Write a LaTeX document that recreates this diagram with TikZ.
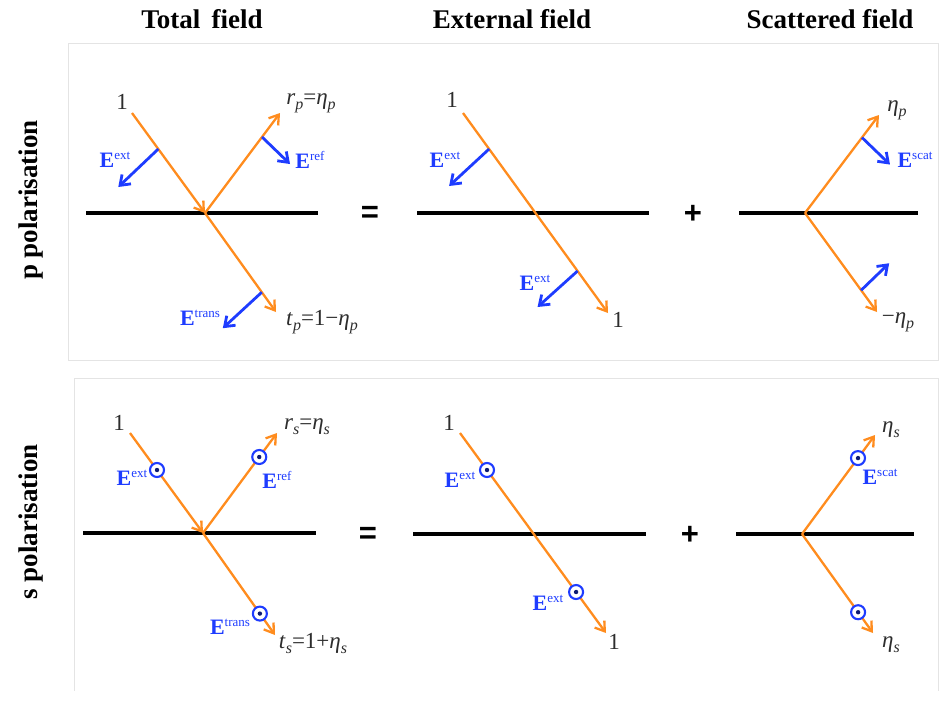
\documentclass[tikz,border=0pt]{standalone}
\usepackage{fontspec}
\setmainfont{Liberation Serif}
\newfontfamily\signfont{Liberation Sans}
\usetikzlibrary{arrows.meta,positioning,calc}

\definecolor{rayorange}{RGB}{255,140,30}
\definecolor{eblue}{RGB}{30,60,255}
\definecolor{labgray}{RGB}{45,45,45}
\definecolor{framegray}{RGB}{228,228,228}

% field label E^{...} and italic subscript
\newcommand{\Efld}[1]{E\raisebox{8pt}{\fontsize{13}{14}\mdseries\selectfont #1}}
\newcommand{\sbs}[1]{\raisebox{-5pt}{\fontsize{16}{16}\selectfont\itshape #1}}

\begin{document}
\begin{tikzpicture}[
  x=1pt, y=-1pt,
  head/.style={font=\bfseries\fontsize{27}{30}\selectfont, anchor=base},
  side/.style={font=\bfseries\fontsize{27}{30}\selectfont, rotate=90},
  frame/.style={draw=framegray, line width=1pt},
  iface/.style={line width=4.5pt, black},
  ray/.style={draw=rayorange, line width=2.3pt, -{Straight Barb[length=9pt,width=12pt]}},
  efield/.style={draw=eblue, line width=2.8pt, -{Straight Barb[length=9pt,width=13pt]}},
  odot/.style={circle, draw=eblue, line width=2.1pt, fill=white, minimum size=14pt, inner sep=0pt,
    path picture={\fill[eblue!45!black] (path picture bounding box.center) circle (2.2pt);}},
  lbl/.style={text=labgray, font=\fontsize{23}{26}\selectfont, inner sep=1pt},
  elbl/.style={text=eblue, font=\bfseries\fontsize{22}{24}\selectfont, inner sep=1pt},
  sign/.style={font=\signfont\bfseries\fontsize{31}{34}\selectfont}
]
\useasboundingbox (0,0) rectangle (939,724);

% headers and row titles
\node[head] (hTot) at (202,28) {Total\, field};
\node[head] (hExt) at (512,28) {External field};
\node[head] (hSca) at (830,28) {Scattered field};
\node[side] (pPol) at (31,200) {p polarisation};
\node[side] (sPol) at (31,522) {s polarisation};

% panel frames
\draw[frame] (68,43) rectangle (938,360);
\draw[frame] (74,691) -- (74,378) -- (938,378) -- (938,691);

%%% p polarisation, total field
\coordinate (pI1) at (132,113);
\coordinate (pP1) at (205,213);
\coordinate (pR1) at (280,113);
\coordinate (pT1) at (276,312);
\draw[iface] (86,213) -- (318,213);
\draw[ray] (pI1) -- (pP1);
\draw[ray] (pP1) -- (pR1);
\draw[ray] (pP1) -- (pT1);
\coordinate (pE1a) at ($(pI1)!0.36!(pP1)$);
\coordinate (pE1b) at ($(pE1a)+(-40,38)$);
\coordinate (pE2a) at ($(pP1)!0.76!(pR1)$);
\coordinate (pE2b) at ($(pE2a)+(28,27)$);
\coordinate (pE3a) at ($(pP1)!0.80!(pT1)$);
\coordinate (pE3b) at ($(pE3a)+(-39,36)$);
\draw[efield] (pE1a) -- (pE1b);
\draw[efield] (pE2a) -- (pE2b);
\draw[efield] (pE3a) -- (pE3b);
\node[lbl] (pL1) at (122,102) {1};
\node[lbl] (pLr) at (311,103) {\textit{r}\sbs{p}=\textit{η}\sbs{p}};
\node[lbl] (pLt) at (322,322) {\textit{t}\sbs{p}=1−\textit{η}\sbs{p}};
\node[elbl] (pEext) at (115,160) {\Efld{ext}};
\node[elbl] (pEref) at (310,160) {\Efld{ref}};
\node[elbl] (pEtr) at (200,318) {\Efld{trans}};
\node[sign] (pEq) at (370,214) {=};

%%% p polarisation, external field
\coordinate (pI2) at (463,113);
\coordinate (pO2) at (608,313);
\draw[iface] (417,213) -- (649,213);
\draw[ray] (pI2) -- (pO2);
\coordinate (pE4a) at ($(pI2)!0.18!(pO2)$);
\coordinate (pE4b) at ($(pE4a)+(-40,37)$);
\coordinate (pE5a) at ($(pI2)!0.79!(pO2)$);
\coordinate (pE5b) at ($(pE5a)+(-40,36)$);
\draw[efield] (pE4a) -- (pE4b);
\draw[efield] (pE5a) -- (pE5b);
\node[lbl] (pL2) at (452,100) {1};
\node[lbl] (pL3) at (618,320) {1};
\node[elbl] (pEext2) at (445,160) {\Efld{ext}};
\node[elbl] (pEext3) at (535,283) {\Efld{ext}};
\node[sign] (pPlus) at (693,214) {+};

%%% p polarisation, scattered field
\coordinate (pP3) at (805,213);
\coordinate (pR3) at (879,115);
\coordinate (pS3) at (877,312);
\draw[iface] (739,213) -- (918,213);
\draw[ray] (pP3) -- (pR3);
\draw[ray] (pP3) -- (pS3);
\coordinate (pE6a) at ($(pP3)!0.77!(pR3)$);
\coordinate (pE6b) at ($(pE6a)+(28,27)$);
\coordinate (pE7a) at ($(pP3)!0.78!(pS3)$);
\coordinate (pE7b) at ($(pE7a)+(28,-27)$);
\draw[efield] (pE6a) -- (pE6b);
\draw[efield] (pE7a) -- (pE7b);
\node[lbl] (pLe) at (897,110) {\textit{η}\sbs{p}};
\node[lbl] (pLm) at (898,322) {−\textit{η}\sbs{p}};
\node[elbl] (pEsc) at (915,160) {\Efld{scat}};

%%% s polarisation, total field
\coordinate (sI1) at (130,433);
\coordinate (sP1) at (203,533);
\coordinate (sR1) at (277,433);
\coordinate (sT1) at (275,635);
\draw[iface] (83,533) -- (316,533);
\draw[ray] (sI1) -- (sP1);
\draw[ray] (sP1) -- (sR1);
\draw[ray] (sP1) -- (sT1);
\node[odot] (sC1) at ($(sI1)!0.37!(sP1)$) {};
\node[odot] (sC2) at ($(sP1)!0.76!(sR1)$) {};
\node[odot] (sC3) at ($(sP1)!0.79!(sT1)$) {};
\node[lbl] (sL1) at (119,423) {1};
\node[lbl] (sLr) at (307,427) {\textit{r}\sbs{s}=\textit{η}\sbs{s}};
\node[lbl] (sLt) at (313,643) {\textit{t}\sbs{s}=1+\textit{η}\sbs{s}};
\node[elbl] (sEext) at (132,478) {\Efld{ext}};
\node[elbl] (sEref) at (277,480) {\Efld{ref}};
\node[elbl] (sEtr) at (230,627) {\Efld{trans}};
\node[sign] (sEq) at (368,535) {=};

%%% s polarisation, external field
\coordinate (sI2) at (460,433);
\coordinate (sO2) at (606,633);
\draw[iface] (413,534) -- (646,534);
\draw[ray] (sI2) -- (sO2);
\node[odot] (sC4) at ($(sI2)!0.185!(sO2)$) {};
\node[odot] (sC5) at ($(sI2)!0.795!(sO2)$) {};
\node[lbl] (sL2) at (449,423) {1};
\node[lbl] (sL3) at (614,642) {1};
\node[elbl] (sEext2) at (460,480) {\Efld{ext}};
\node[elbl] (sEext3) at (548,603) {\Efld{ext}};
\node[sign] (sPlus) at (690,535) {+};

%%% s polarisation, scattered field
\coordinate (sP3) at (802,534);
\coordinate (sR3) at (875,435);
\coordinate (sS3) at (873,633);
\draw[iface] (736,534) -- (914,534);
\draw[ray] (sP3) -- (sR3);
\draw[ray] (sP3) -- (sS3);
\node[odot] (sC6) at ($(sP3)!0.767!(sR3)$) {};
\node[odot] (sC7) at ($(sP3)!0.79!(sS3)$) {};
\node[lbl] (sLe) at (891,430) {\textit{η}\sbs{s}};
\node[lbl] (sLe2) at (891,645) {\textit{η}\sbs{s}};
\node[elbl] (sEsc) at (880,477) {\Efld{scat}};

\end{tikzpicture}
\end{document}
